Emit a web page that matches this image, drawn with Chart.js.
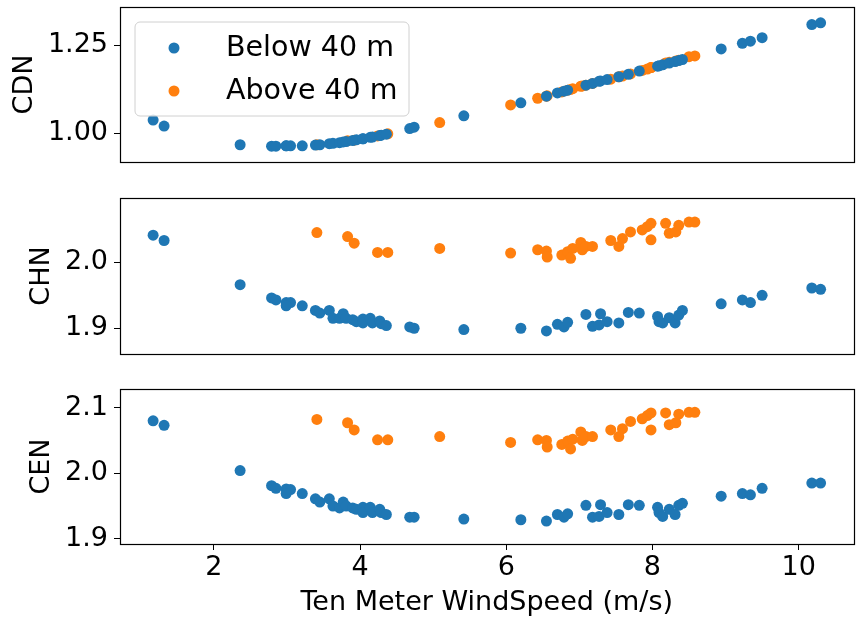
<!DOCTYPE html>
<html>
<head>
<meta charset="utf-8">
<script src="https://cdn.jsdelivr.net/npm/chart.js@4.4.1/dist/chart.umd.min.js"></script>
<style>
  body { margin: 0; background: #fff; }
  .panel { position: absolute; left: 0; width: 859px; }
</style>
</head>
<body>
<div class="panel" style="top:0px;height:170px"><canvas id="cdn" width="859" height="170"></canvas></div>
<div class="panel" style="top:190px;height:172px"><canvas id="chn" width="859" height="172"></canvas></div>
<div class="panel" style="top:380px;height:243px"><canvas id="cen" width="859" height="243"></canvas></div>
<script>
// datos
const seriesNames = ['Below 40 m', 'Above 40 m'];
const xTicks = [2, 4, 6, 8, 10];

// Below 40 m
const windBelow = [1.17, 1.32, 2.36, 2.79, 2.85, 2.99, 3.05, 2.99, 3.21, 3.39, 3.45, 3.58, 3.63, 3.72, 3.77, 3.81, 3.90, 3.95, 4.04, 4.04, 4.14, 4.17, 4.27, 4.29, 4.36, 4.68, 4.74, 5.42, 6.20, 6.55, 6.70, 6.79, 6.84, 7.09, 7.18, 7.29, 7.27, 7.38, 7.54, 7.67, 7.82, 8.07, 8.09, 8.14, 8.23, 8.31, 8.36, 8.41, 8.94, 9.23, 9.34, 9.50, 10.18, 10.30];
const cdnBelow = [1.037, 1.020, 0.967, 0.963, 0.963, 0.964, 0.964, 0.964, 0.964, 0.966, 0.967, 0.970, 0.971, 0.973, 0.975, 0.976, 0.979, 0.981, 0.984, 0.984, 0.988, 0.989, 0.993, 0.994, 0.997, 1.013, 1.017, 1.049, 1.086, 1.105, 1.114, 1.119, 1.122, 1.136, 1.141, 1.148, 1.147, 1.152, 1.160, 1.167, 1.176, 1.190, 1.191, 1.194, 1.199, 1.203, 1.206, 1.209, 1.239, 1.255, 1.261, 1.271, 1.308, 1.313];
const chnBelow = [2.041, 2.033, 1.966, 1.946, 1.943, 1.939, 1.939, 1.934, 1.934, 1.927, 1.923, 1.927, 1.915, 1.915, 1.922, 1.915, 1.913, 1.910, 1.914, 1.908, 1.915, 1.908, 1.911, 1.907, 1.904, 1.902, 1.900, 1.898, 1.900, 1.896, 1.906, 1.902, 1.909, 1.921, 1.903, 1.922, 1.905, 1.910, 1.908, 1.924, 1.923, 1.918, 1.910, 1.908, 1.916, 1.908, 1.920, 1.927, 1.937, 1.943, 1.939, 1.950, 1.961, 1.959];
const cenBelow = [2.080, 2.073, 2.004, 1.981, 1.977, 1.976, 1.975, 1.969, 1.969, 1.961, 1.956, 1.961, 1.950, 1.947, 1.956, 1.950, 1.947, 1.945, 1.948, 1.940, 1.948, 1.940, 1.945, 1.940, 1.937, 1.933, 1.933, 1.930, 1.929, 1.927, 1.937, 1.933, 1.938, 1.951, 1.933, 1.952, 1.934, 1.940, 1.937, 1.952, 1.951, 1.948, 1.940, 1.934, 1.945, 1.937, 1.951, 1.954, 1.965, 1.969, 1.967, 1.977, 1.985, 1.985];

// Above 40 m
const windAbove = [3.41, 3.83, 3.92, 4.24, 4.38, 5.09, 6.06, 6.43, 6.55, 6.56, 6.76, 6.84, 6.88, 6.91, 7.02, 7.04, 7.09, 7.18, 7.43, 7.54, 7.59, 7.70, 7.86, 7.93, 7.98, 7.98, 8.18, 8.23, 8.32, 8.36, 8.50, 8.58];
const cdnAbove = [0.967, 0.978, 0.980, 0.992, 0.998, 1.030, 1.080, 1.099, 1.105, 1.106, 1.117, 1.122, 1.124, 1.126, 1.133, 1.134, 1.136, 1.141, 1.153, 1.160, 1.162, 1.168, 1.178, 1.182, 1.186, 1.186, 1.199, 1.201, 1.205, 1.207, 1.217, 1.219];
const chnAbove = [2.045, 2.039, 2.029, 2.015, 2.015, 2.021, 2.014, 2.019, 2.017, 2.008, 2.011, 2.016, 2.006, 2.021, 2.030, 2.019, 2.024, 2.024, 2.033, 2.024, 2.036, 2.046, 2.049, 2.054, 2.059, 2.034, 2.059, 2.044, 2.046, 2.056, 2.061, 2.061];
const cenAbove = [2.082, 2.077, 2.066, 2.051, 2.051, 2.056, 2.047, 2.051, 2.050, 2.040, 2.044, 2.049, 2.037, 2.052, 2.063, 2.050, 2.056, 2.056, 2.066, 2.056, 2.068, 2.079, 2.083, 2.088, 2.092, 2.066, 2.092, 2.074, 2.077, 2.090, 2.093, 2.093];

const yTicksCDN = [1.00, 1.25];
const yTicksCHN = [1.9, 2.0];
const yTicksCEN = [1.9, 2.0, 2.1];

const blue = '#1f77b4';
const orange = '#ff7f0e';

Chart.defaults.font.family = 'DejaVu Sans';
Chart.defaults.font.size = 27;
Chart.defaults.color = '#000';

function pts(xs, ys) {
    return xs.map((x, i) => ({ x: x, y: ys[i] }));
}

// marco negro alrededor del area
const framePlugin = {
    id: 'frame',
    afterDraw(chart) {
        const a = chart.chartArea;
        const ctx = chart.ctx;
        ctx.save();
        ctx.strokeStyle = '#000';
        ctx.lineWidth = 1.2;
        ctx.strokeRect(Math.round(a.left) + 0.5, Math.round(a.top) + 0.5, Math.round(a.right - a.left), Math.round(a.bottom - a.top));
        ctx.restore();
    }
};

// leyenda dentro del primer panel
const legendPlugin = {
    id: 'boxLegend',
    afterDraw(chart) {
        if (chart.canvas.id !== 'cdn') return;
        const ctx = chart.ctx;
        const x = 135, y = 22, w = 274, h = 94, r = 5;
        ctx.save();
        ctx.beginPath();
        ctx.moveTo(x + r, y);
        ctx.arcTo(x + w, y, x + w, y + h, r);
        ctx.arcTo(x + w, y + h, x, y + h, r);
        ctx.arcTo(x, y + h, x, y, r);
        ctx.arcTo(x, y, x + w, y, r);
        ctx.closePath();
        ctx.fillStyle = 'rgba(255,255,255,0.8)';
        ctx.fill();
        ctx.strokeStyle = '#d0d0d0';
        ctx.lineWidth = 1;
        ctx.stroke();
        const colors = [blue, orange];
        ctx.font = '28.5px "DejaVu Sans"';
        ctx.textBaseline = 'middle';
        seriesNames.forEach((name, i) => {
            const cy = 48 + i * 43;
            ctx.beginPath();
            ctx.arc(174, cy, 5.5, 0, Math.PI * 2);
            ctx.fillStyle = colors[i];
            ctx.fill();
            ctx.fillStyle = '#000';
            ctx.fillText(name, 226, cy + 1);
        });
        ctx.restore();
    }
};

function makePanel(id, title, below, above, yMin, yMax, yTicks, decimals, titlePad, padTop, padBottom, showX) {
    const ctx = document.getElementById(id).getContext('2d');
    return new Chart(ctx, {
        type: 'scatter',
        data: {
            datasets: [
                { label: seriesNames[0], data: pts(windBelow, below), backgroundColor: blue, borderWidth: 0, pointRadius: 5.5 },
                { label: seriesNames[1], data: pts(windAbove, above), backgroundColor: orange, borderWidth: 0, pointRadius: 5.5 }
            ]
        },
        options: {
            responsive: false,
            devicePixelRatio: 1,
            animation: false,
            layout: { padding: { top: padTop, bottom: padBottom, left: 0, right: 4 } },
            plugins: { legend: { display: false }, tooltip: { enabled: false } },
            scales: {
                x: {
                    type: 'linear',
                    display: showX,
                    min: 0.717,
                    max: 10.75,
                    afterBuildTicks: s => { s.ticks = xTicks.map(v => ({ value: v })); },
                    afterFit: s => {
                        s.height = showX ? 79 : 0;
                        s.paddingLeft = 0; s.paddingRight = 0;
                    },
                    grid: { drawOnChartArea: false, drawTicks: true, tickLength: 6, color: '#000' },
                    border: { display: false },
                    ticks: { padding: 2, callback: v => String(v) },
                    title: { display: true, text: 'Ten Meter WindSpeed (m/s)', padding: { top: 0, bottom: 4 } }
                },
                y: {
                    type: 'linear',
                    min: yMin,
                    max: yMax,
                    afterBuildTicks: s => { s.ticks = yTicks.map(v => ({ value: v })); },
                    afterFit: s => {
                        s.width = 120;
                        s.paddingTop = 0; s.paddingBottom = 0;
                    },
                    grid: { drawOnChartArea: false, drawTicks: true, tickLength: 6, color: '#000' },
                    border: { display: false },
                    ticks: { padding: 6, callback: v => v.toFixed(decimals) },
                    title: { display: true, text: title, padding: { top: titlePad, bottom: 0 } }
                }
            }
        },
        plugins: [framePlugin, legendPlugin]
    });
}

makePanel('cdn', 'CDN', cdnBelow, cdnAbove, 0.918, 1.358, yTicksCDN, 2, 9, 7, 8, false);
makePanel('chn', 'CHN', chnBelow, chnAbove, 1.861, 2.0974, yTicksCHN, 1, 26, 8, 8, false);
makePanel('cen', 'CEN', cenBelow, cenAbove, 1.892, 2.1285, yTicksCEN, 1, 26, 9, 0, true);
</script>
</body>
</html>
